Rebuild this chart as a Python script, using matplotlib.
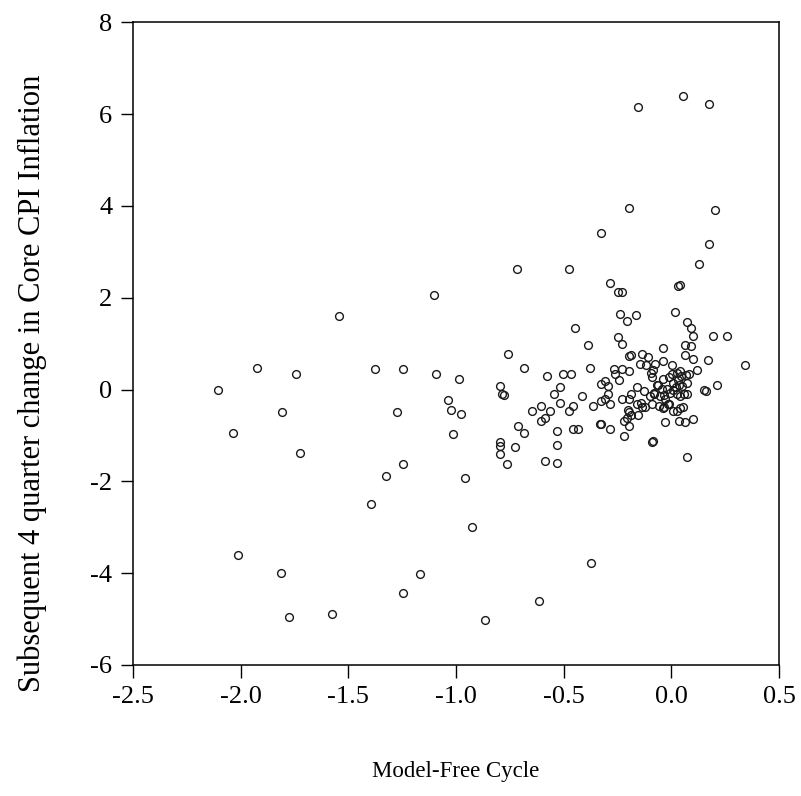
import numpy as np
import matplotlib
matplotlib.use("Agg")
import matplotlib.pyplot as plt

plt.rcParams['font.family'] = ['Liberation Serif', 'DejaVu Serif']

# model-free cycle (x) vs subsequent 4-quarter change in core CPI inflation (y)
cycle = [
    -2.106, -2.035, -2.014, -1.924, -1.814, -1.806, -1.775, -1.745, -1.725, -1.575,
    -1.545, -1.396, -1.375, -1.325, -1.276, -1.247, -1.247, -1.247, -1.165, -1.104,
    -1.094, -1.035, -1.025, -1.016, -0.984, -0.975, -0.957, -0.924, -0.865,
    -0.794, -0.788, -0.776, -0.757, -0.794, -0.794, -0.794, -0.765, -0.724, -0.716,
    -0.714, -0.686, -0.686, -0.645, -0.616, -0.604, -0.604, -0.586, -0.586, -0.576,
    -0.565, -0.545, -0.533, -0.533, -0.533, -0.516, -0.516, -0.504,
    -0.476, -0.475, -0.465, -0.457, -0.455, -0.445, -0.433, -0.416, -0.386, -0.376,
    -0.375, -0.365, -0.333, -0.325, -0.325, -0.325, -0.306, -0.296, -0.296, -0.306,
    -0.325, -0.286, -0.286, -0.286,
    -0.267, -0.261, -0.244, -0.229, -0.196, -0.247, -0.227, -0.237, -0.207, -0.196,
    -0.166, -0.246, -0.227, -0.198, -0.187, -0.155, -0.137, -0.107, -0.147, -0.117,
    -0.076,
    -0.229, -0.196, -0.187, -0.158, -0.128, -0.199, -0.195, -0.188, -0.218, -0.198,
    -0.218, -0.156, -0.136, -0.157, -0.143, -0.124, -0.088, -0.206,
    -0.099, -0.081, -0.053, -0.030, -0.096, -0.091, -0.083, -0.068, -0.037, -0.037,
    -0.037, -0.012, 0.005, 0.025, 0.042, 0.045, 0.069, 0.084, 0.072, 0.005,
    0.016, 0.030, 0.040, 0.055, 0.064, 0.064, 0.071, 0.093, 0.093, 0.102,
    0.102, 0.121,
    -0.006, 0.009, 0.028, 0.041, 0.061, 0.075, 0.020, 0.035, 0.050, 0.010,
    0.030,
    -0.091, -0.058, -0.040, -0.009, 0.006, 0.025, 0.041, 0.053, -0.030, 0.037,
    0.064, 0.102, 0.073, -0.086,
    -0.063, -0.043, -0.020, -0.033, -0.033, -0.014, -0.082,
    0.130, 0.175, 0.175, 0.204, 0.172, 0.192, 0.259, 0.340, 0.211, 0.152,
    0.162,
]
inflation = [
    -0.01, -0.94, -3.61, 0.47, -4.00, -0.48, -4.95, 0.33, -1.39, -4.90,
    1.61, -2.50, 0.44, -1.88, -0.48, 0.44, -1.63, -4.44, -4.01, 2.05,
    0.33, -0.22, -0.44, -0.96, 0.24, -0.54, -1.93, -2.99, -5.02,
    0.085, -0.09, -0.12, 0.77, -1.14, -1.22, -1.41, -1.63, -1.25, 2.63,
    -0.79, 0.47, -0.94, -0.47, -4.60, -0.36, -0.69, -0.63, -1.56, 0.30,
    -0.47, -0.09, -0.90, -1.21, -1.61, 0.05, -0.30, 0.34,
    2.62, -0.46, 0.33, -0.87, -0.36, 1.34, -0.85, -0.15, 0.98, 0.46,
    -3.77, -0.36, -0.75, -0.76, 3.40, 0.12, 0.18, 0.07, -0.09, -0.21,
    -0.24, -0.31, -0.85, 2.32,
    0.45, 0.34, 0.21, 0.45, 0.41, 2.12, 2.12, 1.65, 1.49, 3.96,
    1.63, 1.15, 0.99, 0.72, 0.75, 6.15, 0.78, 0.71, 0.56, 0.53,
    0.55,
    -0.20, -0.20, -0.10, 0.06, -0.03, -0.44, -0.50, -0.55, -0.68, -0.79,
    -1.02, -0.55, -0.37, -0.31, -0.29, -0.39, -1.14, -0.62,
    -0.15, -0.10, -0.15, -0.20, 0.36, 0.28, 0.43, 0.10, 0.22, 0.62,
    0.91, 0.28, 0.34, 0.37, 0.41, 0.30, 0.32, 0.34, 0.14, 0.53,
    1.69, 2.26, 2.28, 6.40, 0.75, 0.97, 1.47, 1.33, 0.94, 1.17,
    0.67, 0.43,
    -0.08, -0.01, -0.10, -0.13, -0.10, -0.10, 0.05, 0.10, 0.08, 0.15,
    0.20,
    -0.32, -0.36, -0.41, -0.32, -0.47, -0.46, -0.41, -0.37, -0.71, -0.68,
    -0.71, -0.64, -1.46, -1.12,
    0.10, 0.02, 0.02, -0.12, -0.39, -0.31, -0.08,
    2.74, 6.23, 3.16, 3.92, 0.65, 1.17, 1.17, 0.53, 0.09, -0.01,
    -0.03,
]

xticks = [-2.5, -2.0, -1.5, -1.0, -0.5, 0.0, 0.5]
yticks = [-6, -4, -2, 0, 2, 4, 6, 8]

fig = plt.figure(figsize=(8.01, 7.96), dpi=100)
ax = fig.add_axes([0.166, 0.1646, 0.8065, 0.8074])

ax.plot(cycle, inflation, linestyle='none', marker='o', markersize=5.6,
        markerfacecolor='none', markeredgecolor='#1a1a1a', markeredgewidth=1.0)

ax.set_xlim(-2.5, 0.5)
ax.set_ylim(-6, 8)
ax.set_xticks(xticks)
ax.set_xticklabels(['%.1f' % t for t in xticks])
ax.set_yticks(yticks)
ax.set_yticklabels([str(t) for t in yticks])

for s in ax.spines.values():
    s.set_linewidth(1.1)
ax.tick_params(direction='out', length=9, width=1.0, labelsize=19, pad=6)

fig.text(0.569, 0.031, 'Model-Free Cycle', ha='center', va='center', fontsize=16.5)
fig.text(0.040, 0.519, 'Subsequent 4 quarter change in Core CPI Inflation',
         ha='center', va='center', rotation=90, fontsize=22)

fig.savefig('out.png', dpi=100)
